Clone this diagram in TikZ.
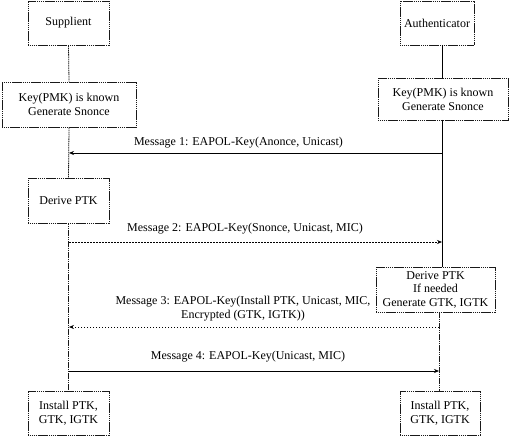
\documentclass[tikz,border=0pt]{standalone}
\usepackage{fontspec}
\setmainfont{Liberation Serif}
\usetikzlibrary{arrows.meta}
\begin{document}
\begin{tikzpicture}[x=1bp,y=-1bp,
  font=\fontsize{12bp}{14bp}\selectfont,
  box/.style={draw=black!90, line width=0.8bp, dash pattern=on 1.4bp off 0.5bp, fill=white,
    align=center, inner sep=0pt},
  life/.style={draw=black!90, line width=0.8bp, dash pattern=on 1.5bp off 0.7bp},
  lifesolid/.style={draw=black, line width=0.7bp},
  msg/.style={line width=0.7bp, -{Stealth[length=5bp,width=4bp]}},
  msgdot/.style={msg, dash pattern=on 1.5bp off 1.5bp},
  lbl/.style={align=center, inner sep=0pt}]
\useasboundingbox (0,0) rectangle (509,437);
% boxes
\node[box, minimum width=81bp, minimum height=44bp] (sup) at (68.5,23) {Supplient};
\node[box, minimum width=74bp, minimum height=44bp] (auth) at (437,23) {Authenticator};
\node[box, minimum width=134bp, minimum height=45bp] (keyL) at (69,104.5) {Key(PMK) is known\\Generate Snonce};
\node[box, minimum width=130bp, minimum height=42bp] (keyR) at (443,99) {Key(PMK) is known\\Generate Snonce};
\node[box, minimum width=81bp, minimum height=45bp] (derL) at (68.5,200.5) {Derive PTK};
\node[box, minimum width=119bp, minimum height=45bp, font=\fontsize{12bp}{13.5bp}\selectfont] (derR) at (435.5,289.5) {Derive PTK\\If needed\\Generate GTK, IGTK};
\node[box, minimum width=81bp, minimum height=44bp] (instL) at (68.5,413) {Install PTK,\\GTK, IGTK};
\node[box, minimum width=80bp, minimum height=44bp] (instR) at (440,413) {Install PTK,\\GTK, IGTK};
% lifeline coordinates
\coordinate (a1) at (442,45);
\coordinate (a2) at (442,78);
\coordinate (a3) at (442,120);
\coordinate (a4) at (442,267);
\coordinate (a5) at (439,312);
\coordinate (a6) at (439,391);
\coordinate (m1a) at (442,153);
\coordinate (m1s) at (69,153);
\coordinate (m2s) at (69,242);
\coordinate (m2a) at (442,242);
\coordinate (m3a) at (439,327);
\coordinate (m3s) at (69,327);
\coordinate (m4s) at (69,371);
\coordinate (m4a) at (439,371);
% lifelines
\draw[life] (sup.south) -- (keyL.north);
\draw[life] (keyL.south) -- (derL.north);
\draw[life] (derL.south) -- (instL.north);
\draw[lifesolid] (a1) -- (a2);
\draw[lifesolid] (a3) -- (a4);
\draw[life] (a5) -- (a6);
% messages
\draw[msg] (m1a) -- (m1s);
\draw[msgdot] (m2s) -- (m2a);
\draw[msgdot] (m3a) -- (m3s);
\draw[msg] (m4s) -- (m4a);
% labels
\node[lbl] (l1) at (238.5,143) {Message 1: EAPOL-Key(Anonce, Unicast)};
\node[lbl] (l2) at (245,229) {Message 2: EAPOL-Key(Snonce, Unicast, MIC)};
\node[lbl] (l3) at (243,309) {Message 3: EAPOL-Key(Install PTK, Unicast, MIC,\\Encrypted (GTK, IGTK))};
\node[lbl] (l4) at (248,357) {Message 4: EAPOL-Key(Unicast, MIC)};
\end{tikzpicture}
\end{document}
